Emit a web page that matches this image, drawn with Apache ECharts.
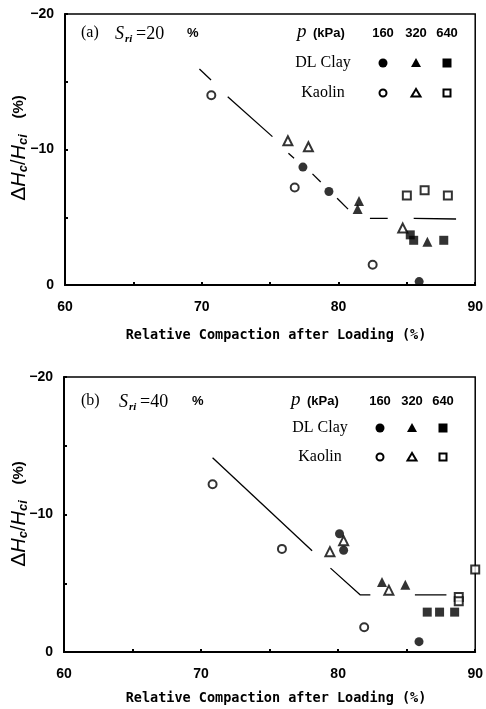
<!DOCTYPE html>
<html>
<head>
<meta charset="utf-8">
<script src="https://cdn.jsdelivr.net/npm/echarts@6/dist/echarts.min.js"></script>
<style>
html, body { margin: 0; padding: 0; background: #fff; }
#chart { width: 486px; height: 709px; }
</style>
</head>
<body>
<div id="chart"></div>
<script>
// x: relative compaction after loading (%), y: dHc/Hci (%)
var xTicks = [60, 70, 80, 90];
var yTicks = [-20, -10, 0];
var pressures = ['160', '320', '640'];

// (a) Sri = 20 %
var dlClay160A = [[77.4, -8.7], [79.3, -6.9], [85.9, -0.25]];
var dlClay320A = [[81.5, -6.2], [81.4, -5.6], [86.5, -3.2]];
var dlClay640A = [[85.25, -3.7], [85.5, -3.3], [87.7, -3.3]];
var kaolin160A = [[70.7, -14.0], [76.8, -7.2], [82.5, -1.5]];
var kaolin320A = [[76.3, -10.65], [77.8, -10.2], [84.7, -4.2]];
var kaolin640A = [[85.0, -6.6], [86.3, -7.0], [88.0, -6.6]];
// dashed trend, each piece is one dash of the scan
var trendA = [
    [[69.83, -15.94], [70.68, -15.13]],
    [[71.9, -13.9], [75.17, -10.95]],
    [[76.34, -9.72], [76.75, -9.35]],
    [[78.1, -8.2], [78.7, -7.6]],
    [[79.9, -6.4], [80.7, -5.6]],
    [[82.3, -4.92], [83.6, -4.92]],
    [[85.5, -4.92], [88.6, -4.87]]
];

// (b) Sri = 40 %
var dlClay160B = [[80.1, -8.6], [80.4, -7.4], [85.9, -0.75]];
var dlClay320B = [[83.2, -5.1], [84.9, -4.9]];
var dlClay640B = [[86.5, -2.9], [87.4, -2.9], [88.5, -2.9]];
var kaolin160B = [[70.84, -12.2], [75.9, -7.5], [81.9, -1.8]];
var kaolin320B = [[79.4, -7.3], [80.4, -8.1], [83.7, -4.5]];
var kaolin640B = [[88.8, -4.0], [88.8, -3.7], [90.0, -6.0]];
var trendB = [
    [[70.84, -14.13], [78.1, -7.37]],
    [[79.44, -6.1], [81.62, -4.15], [82.35, -4.15]],
    [[85.6, -4.15], [87.9, -4.15]]
];

var serif = 'Liberation Serif';
var sans = 'Liberation Sans';

function xAxisOf(grid) {
    return {
        type: 'value', gridIndex: grid, min: 60, max: 90, interval: 5,
        axisLine: { lineStyle: { color: '#000', width: 2 } },
        axisTick: { inside: true, length: 3, lineStyle: { color: '#000', width: 2 } },
        axisLabel: {
            margin: 15, color: '#000', fontFamily: sans, fontWeight: 'bold', fontSize: 14,
            formatter: function (v) { return xTicks.indexOf(v) >= 0 ? String(v) : ''; }
        },
        splitLine: { show: false }
    };
}

function yAxisOf(grid) {
    return {
        type: 'value', gridIndex: grid, min: -20, max: 0, interval: 5, inverse: true,
        axisLine: { lineStyle: { color: '#000', width: 2 } },
        axisTick: { inside: true, length: 3, lineStyle: { color: '#000', width: 2 } },
        axisLabel: {
            margin: 11, color: '#000', fontFamily: sans, fontWeight: 'bold', fontSize: 14,
            formatter: function (v) {
                if (yTicks.indexOf(v) < 0) return '';
                return v < 0 ? '\u2212' + Math.abs(v) : String(v);
            }
        },
        splitLine: { show: false }
    };
}

function dots(data, grid, symbol, filled, size) {
    return {
        type: 'scatter', xAxisIndex: grid, yAxisIndex: grid, data: data,
        symbol: symbol, symbolSize: size, z: 5, clip: false,
        itemStyle: filled ? { color: '#000' } :
            { color: '#fff', borderColor: '#000', borderWidth: 2 }
    };
}

function trend(segs, grid) {
    return segs.map(function (seg) {
        return {
            type: 'line', xAxisIndex: grid, yAxisIndex: grid, data: seg,
            symbol: 'none', z: 3, lineStyle: { color: '#000', width: 1.3 }
        };
    });
}

// key table (p, DL Clay, Kaolin) and texts of one panel
function keyGraphics(k) {
    var g = [];
    function txt(x, y, s, font, align) {
        g.push({ type: 'text', x: x, y: y, style: { text: s, font: font, fill: '#000', align: align || 'left', verticalAlign: 'middle' } });
    }
    txt(81, k.head, k.tag, '16px ' + serif);
    txt(k.sx, k.head + 1, 'S', 'italic 18px ' + serif);
    txt(k.sx + 10, k.head + 6, 'ri', 'italic bold 11px ' + serif);
    txt(k.sx + 21, k.head + 1, k.eq, '18px ' + serif);
    txt(k.pct, k.head, '%', 'bold 13px ' + sans);
    txt(k.px, k.head - 1, 'p', 'italic 19px ' + serif);
    txt(k.px + 16, k.head, '(kPa)', 'bold 13px ' + sans);
    pressures.forEach(function (p, i) {
        txt(k.cols[i], k.head, p, 'bold 13px ' + sans, 'center');
    });
    txt(k.lx, k.row1, 'DL Clay', '16px ' + serif, 'center');
    txt(k.lx, k.row2, 'Kaolin', '16px ' + serif, 'center');
    var c = k.cols;
    g.push({ type: 'circle', shape: { cx: c[0], cy: k.row1, r: 4.5 }, style: { fill: '#000' } });
    g.push({ type: 'polygon', shape: { points: [[c[1], k.row1 - 5], [c[1] - 5, k.row1 + 4], [c[1] + 5, k.row1 + 4]] }, style: { fill: '#000' } });
    g.push({ type: 'rect', shape: { x: c[2] - 4.5, y: k.row1 - 4.5, width: 9, height: 9 }, style: { fill: '#000' } });
    g.push({ type: 'circle', shape: { cx: c[0], cy: k.row2, r: 3.5 }, style: { fill: '#fff', stroke: '#000', lineWidth: 2 } });
    g.push({ type: 'polygon', shape: { points: [[c[1], k.row2 - 4], [c[1] - 4.5, k.row2 + 3.5], [c[1] + 4.5, k.row2 + 3.5]] }, style: { fill: '#fff', stroke: '#000', lineWidth: 2 } });
    g.push({ type: 'rect', shape: { x: c[2] - 3.5, y: k.row2 - 3.5, width: 7, height: 7 }, style: { fill: '#fff', stroke: '#000', lineWidth: 2 } });
    // y axis name
    g.push({
        type: 'text', x: 19, y: k.ymid, rotation: Math.PI / 2,
        style: {
            text: '{d|\u0394}{h|H}{s|c}{n|/}{h|H}{s|ci}{g|    }{p|(%)}',
            align: 'center', verticalAlign: 'middle', fill: '#000',
            rich: {
                d: { font: '21px ' + sans, fill: '#000' },
                h: { font: 'italic 20px ' + sans, fill: '#000' },
                s: { font: 'italic bold 13px ' + sans, fill: '#000', verticalAlign: 'bottom' },
                n: { font: '20px ' + sans, fill: '#000' },
                g: { font: '14px ' + sans },
                p: { font: 'bold 15px ' + sans, fill: '#000' }
            }
        }
    });
    // x axis name
    g.push({ type: 'text', x: 276, y: k.xname, style: { text: 'Relative Compaction after Loading (%)', font: 'bold 13.5px "DejaVu Sans Mono"', fill: '#000', align: 'center', verticalAlign: 'middle' } });
    return g;
}

var chart = echarts.init(document.getElementById('chart'));

var series = [
    dots(dlClay160A, 0, 'circle', true, 9),
    dots(dlClay320A, 0, 'triangle', true, 10),
    dots(dlClay640A, 0, 'rect', true, 9),
    dots(kaolin160A, 0, 'circle', false, 8),
    dots(kaolin320A, 0, 'triangle', false, 9),
    dots(kaolin640A, 0, 'rect', false, 8),
    dots(dlClay160B, 1, 'circle', true, 9),
    dots(dlClay320B, 1, 'triangle', true, 10),
    dots(dlClay640B, 1, 'rect', true, 9),
    dots(kaolin160B, 1, 'circle', false, 8),
    dots(kaolin320B, 1, 'triangle', false, 9),
    dots(kaolin640B, 1, 'rect', false, 8)
].concat(trend(trendA, 0), trend(trendB, 1));

var option = {
    animation: false,
    backgroundColor: '#fff',
    grid: [
        { left: 65, top: 14, width: 412, height: 271, show: true, borderColor: '#000', borderWidth: 1.5 },
        { left: 64, top: 377, width: 413, height: 275, show: true, borderColor: '#000', borderWidth: 1.5 }
    ],
    xAxis: [xAxisOf(0), xAxisOf(1)],
    yAxis: [yAxisOf(0), yAxisOf(1)],
    series: series,
    graphic: keyGraphics({
        tag: '(a)', eq: '=20', head: 33, row1: 63, row2: 93, sx: 115, pct: 187,
        px: 297, cols: [383, 416, 447], lx: 323, ymid: 148, xname: 335
    }).concat(keyGraphics({
        tag: '(b)', eq: '=40', head: 401, row1: 428, row2: 457, sx: 119, pct: 192,
        px: 291, cols: [380, 412, 443], lx: 320, ymid: 514, xname: 698
    }))
};

chart.setOption(option);
</script>
</body>
</html>
